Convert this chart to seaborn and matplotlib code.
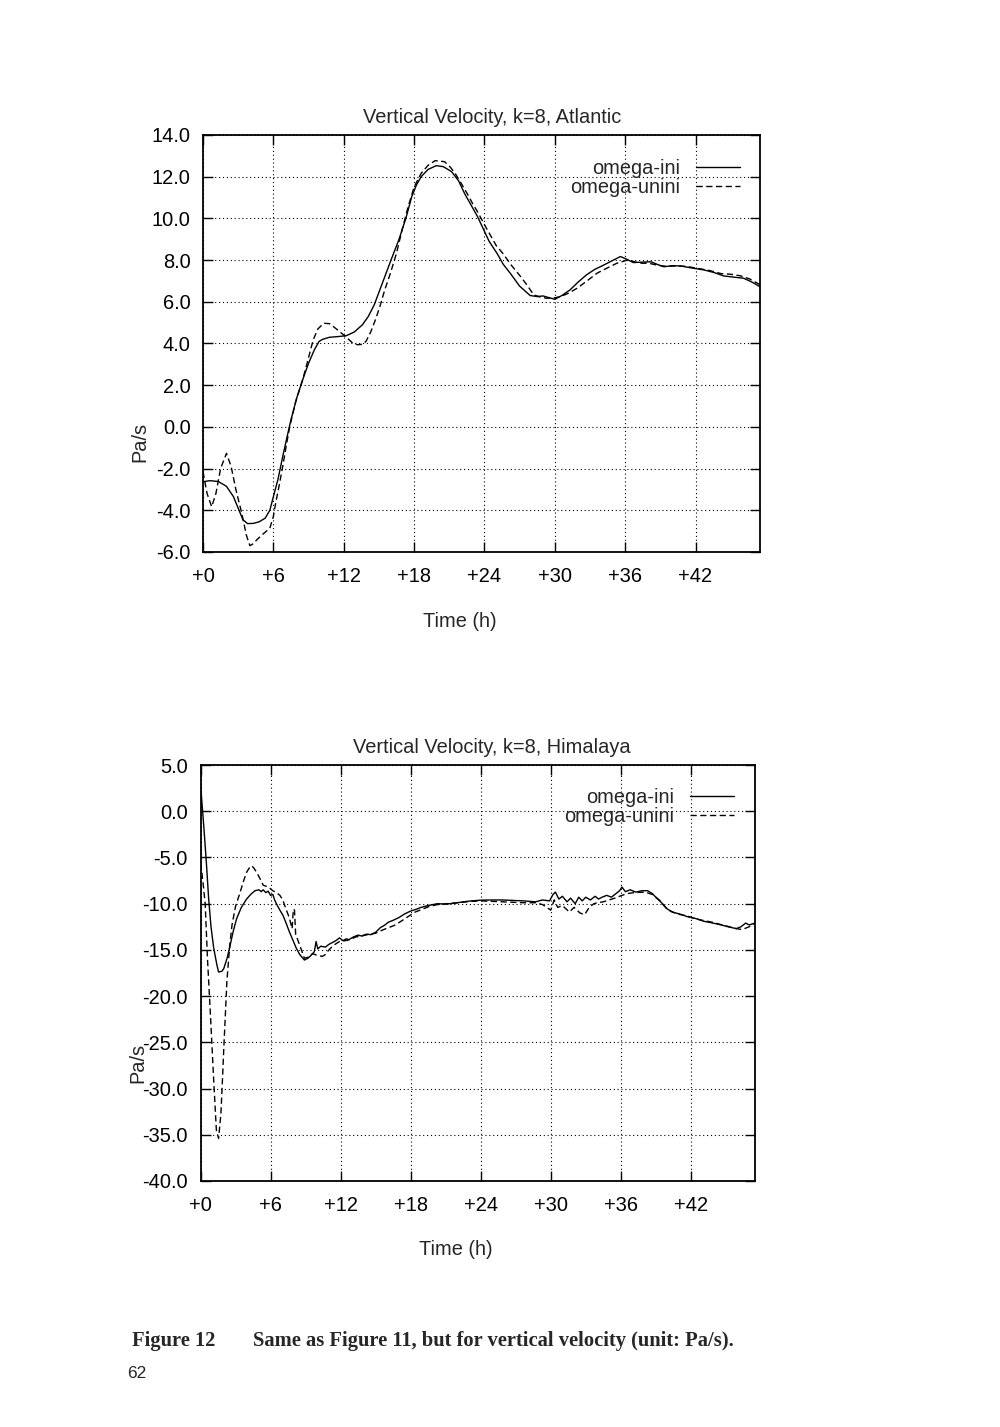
import numpy as np
import pandas as pd
import matplotlib
matplotlib.use("Agg")
import matplotlib.pyplot as plt
import seaborn as sns

# ---- data (hours, Pa/s) ----
atl_ini_t = [0.0, 0.6, 1.3, 2.0, 2.6, 3.0, 3.4, 3.8, 4.3, 4.8, 5.3, 5.7, 6.0, 6.4, 6.8,
             7.2, 7.5, 8.0, 8.5, 9.0, 9.5, 9.9, 10.2, 10.8, 11.3, 12.2, 12.9, 13.6, 14.1,
             14.6, 15.0, 15.5, 16.1, 16.7, 17.3, 17.8, 18.2, 18.6, 19.2, 19.9, 20.5, 21.2,
             21.8, 22.3, 22.8, 23.4, 23.9, 24.4, 25.1, 25.6, 26.2, 27.0, 27.9, 28.5, 29.0,
             29.5, 30.0, 30.6, 31.3, 32.0, 32.7, 33.4, 34.2, 35.0, 35.6, 36.1, 36.7, 37.4,
             38.2, 38.8, 39.3, 40.0, 40.7, 41.7, 42.7, 43.6, 44.4, 45.3, 46.1, 46.8, 47.5]
atl_ini_v = [-2.63, -2.58, -2.62, -2.85, -3.35, -3.9, -4.45, -4.64, -4.63, -4.55, -4.38,
             -4.0, -3.35, -2.5, -1.42, -0.4, 0.34, 1.4, 2.26, 3.05, 3.7, 4.1, 4.2, 4.3,
             4.32, 4.37, 4.55, 4.9, 5.3, 5.85, 6.45, 7.2, 8.1, 8.97, 10.0, 11.04, 11.6,
             12.0, 12.35, 12.53, 12.48, 12.24, 11.8, 11.2, 10.7, 10.1, 9.5, 8.9, 8.3, 7.8,
             7.37, 6.75, 6.3, 6.25, 6.28, 6.2, 6.12, 6.3, 6.57, 6.95, 7.29, 7.55, 7.77, 8.0,
             8.17, 8.05, 7.88, 7.9, 7.92, 7.78, 7.68, 7.73, 7.72, 7.62, 7.53, 7.4, 7.24,
             7.18, 7.13, 6.95, 6.72]

atl_unini_t = [0.0, 0.35, 0.74, 1.1, 1.5, 2.0, 2.4, 2.8, 3.3, 3.7, 4.0, 4.3, 4.6, 5.1, 5.7,
               6.0, 6.2, 6.5, 6.8, 7.1, 7.4, 7.9, 8.5, 8.9, 9.4, 9.8, 10.3, 10.8, 11.3,
               11.8, 12.3, 12.8, 13.2, 13.6, 13.9, 14.3, 14.7, 15.1, 15.5, 16.0, 16.5,
               17.0, 17.5, 18.0, 18.6, 19.2, 19.8, 20.6, 21.1, 21.5, 22.0, 22.6, 23.0,
               23.4, 24.0, 24.5, 25.0, 25.6, 26.3, 27.1, 27.7, 28.2, 28.8, 29.3, 29.9,
               30.5, 31.2, 31.9, 32.7, 33.6, 34.4, 35.3, 36.2, 36.8, 37.3, 38.0, 38.8,
               39.5, 40.3, 41.2, 42.2, 43.2, 44.2, 45.0, 45.8, 46.6, 47.5]
atl_unini_v = [-2.15, -3.2, -3.83, -3.2, -2.0, -1.27, -1.9, -3.0, -4.13, -5.2, -5.7, -5.6,
               -5.41, -5.15, -4.86, -4.3, -3.65, -2.8, -1.9, -0.9, 0.02, 1.2, 2.26, 3.1,
               4.18, 4.7, 4.97, 4.95, 4.73, 4.5, 4.26, 4.0, 3.94, 3.96, 4.1, 4.55, 5.13,
               5.8, 6.57, 7.4, 8.33, 9.5, 10.57, 11.5, 12.16, 12.55, 12.77, 12.72, 12.45,
               12.16, 11.7, 11.12, 10.7, 10.33, 9.7, 9.2, 8.7, 8.3, 7.75, 7.2, 6.75, 6.33,
               6.22, 6.17, 6.18, 6.25, 6.42, 6.65, 6.98, 7.37, 7.6, 7.85, 8.0, 7.92, 7.85,
               7.85, 7.75, 7.7, 7.72, 7.7, 7.6, 7.5, 7.35, 7.32, 7.25, 7.1, 6.82]

him_ini_t = [0.0, 0.15, 0.28, 0.5, 0.7, 0.9, 1.13, 1.4, 1.55, 1.85, 2.0, 2.3, 2.54, 2.8,
             3.1, 3.5, 3.95, 4.3, 4.66, 5.0, 5.2, 5.37, 5.6, 5.8, 6.0, 6.2, 6.35, 6.5, 6.8,
             7.06, 7.3, 7.6, 7.9, 8.2, 8.5, 8.9, 9.2, 9.46, 9.75, 9.9, 10.05, 10.3, 10.7,
             11.0, 11.3, 11.6, 11.9, 12.2, 12.5, 12.7, 13.1, 13.5, 13.8, 14.2, 14.6, 15.0,
             15.4, 15.8, 16.1, 16.5, 17.0, 17.5, 18.0, 18.5, 18.9, 19.5, 20.3, 21.0, 21.75,
             22.5, 23.2, 24.0, 24.8, 25.9, 26.8, 27.7, 28.7, 29.3, 29.9, 30.2, 30.4, 30.7,
             31.0, 31.4, 31.7, 32.1, 32.4, 32.7, 33.0, 33.4, 33.8, 34.1, 34.4, 34.8, 35.2,
             35.6, 35.9, 36.1, 36.4, 36.8, 37.3, 37.8, 38.3, 38.7, 39.0, 39.5, 39.9, 40.4,
             41.0, 41.7, 42.4, 43.1, 43.9, 44.6, 45.2, 45.9, 46.3, 46.7, 47.0, 47.5]
him_ini_v = [3.0, 0.5, -1.6, -5.5, -9.5, -12.5, -14.8, -16.6, -17.4, -17.3, -17.0, -15.8,
             -14.5, -13.0, -11.6, -10.4, -9.5, -9.0, -8.6, -8.5, -8.7, -8.5, -8.8, -8.65,
             -9.1, -9.0, -9.6, -10.0, -10.7, -11.25, -12.0, -13.0, -13.9, -14.8, -15.5,
             -16.1, -15.9, -15.6, -15.2, -14.1, -14.9, -14.6, -14.7, -14.4, -14.2, -14.0,
             -13.7, -14.0, -13.8, -13.9, -13.6, -13.4, -13.5, -13.3, -13.35, -13.1, -12.6,
             -12.3, -12.0, -11.8, -11.5, -11.1, -10.8, -10.6, -10.4, -10.2, -10.0, -10.05,
             -9.95, -9.8, -9.7, -9.62, -9.6, -9.6, -9.65, -9.7, -9.8, -9.6, -9.7, -9.0,
             -8.75, -9.5, -9.2, -9.8, -9.4, -10.0, -9.3, -9.7, -9.3, -9.6, -9.2, -9.5, -9.3,
             -9.1, -9.3, -8.9, -8.6, -8.2, -8.7, -8.5, -8.75, -8.6, -8.6, -8.9, -9.3, -9.9,
             -10.5, -10.9, -11.1, -11.4, -11.6, -11.9, -12.1, -12.3, -12.5, -12.7, -12.5,
             -12.1, -12.3, -12.1]

him_unini_t = [0.0, 0.2, 0.4, 0.6, 0.85, 1.13, 1.36, 1.55, 1.75, 1.9, 2.0, 2.13, 2.26, 2.5,
               2.7, 3.0, 3.4, 3.7, 3.95, 4.2, 4.4, 4.6, 4.8, 5.1, 5.37, 5.8, 6.2, 6.5, 6.8,
               7.05, 7.3, 7.6, 7.85, 7.95, 8.05, 8.15, 8.5, 8.9, 9.2, 9.6, 10.0, 10.45,
               10.7, 11.0, 11.4, 11.9, 12.4, 12.8, 13.3, 13.8, 14.3, 15.0, 15.5, 16.1, 16.7,
               17.3, 17.9, 18.4, 19.0, 19.6, 20.3, 21.1, 22.0, 23.2, 24.0, 25.0, 25.9, 26.8,
               27.7, 28.7, 29.3, 30.0, 30.3, 30.6, 31.0, 31.6, 32.0, 32.5, 32.9, 33.3, 33.7,
               34.0, 34.5, 35.0, 35.5, 36.1, 36.6, 37.2, 38.1, 38.7, 39.3, 39.7, 40.1, 40.8,
               41.6, 42.3, 43.0, 43.8, 44.7, 45.3, 45.9, 46.4, 47.0, 47.5]
him_unini_v = [-5.6, -7.5, -10.0, -16.0, -22.0, -29.1, -34.5, -35.4, -32.7, -28.5, -25.5,
               -22.0, -18.4, -14.6, -12.3, -10.3, -8.75, -7.5, -6.6, -6.1, -5.9, -6.2, -6.6,
               -7.3, -8.0, -8.2, -8.6, -8.8, -9.1, -9.6, -10.5, -11.5, -12.7, -10.6, -10.7,
               -13.3, -14.5, -15.9, -15.8, -15.4, -15.6, -15.7, -15.5, -15.0, -14.5, -14.1,
               -14.0, -13.9, -13.6, -13.5, -13.35, -13.2, -12.9, -12.6, -12.3, -11.8, -11.3,
               -10.9, -10.6, -10.3, -10.1, -10.0, -9.9, -9.75, -9.7, -9.75, -9.8, -9.85,
               -9.9, -9.9, -10.1, -10.7, -9.6, -10.4, -10.2, -10.9, -10.4, -11.0, -11.2,
               -10.4, -10.0, -9.9, -9.8, -9.6, -9.4, -9.1, -8.9, -8.8, -8.75, -9.0, -9.6,
               -10.2, -10.7, -11.1, -11.3, -11.6, -11.8, -12.0, -12.3, -12.5, -12.7, -12.8,
               -12.5, -12.1]

x_ticks = [0, 6, 12, 18, 24, 30, 36, 42]
x_tick_labels = ["+0", "+6", "+12", "+18", "+24", "+30", "+36", "+42"]
atl_y_ticks = [-6, -4, -2, 0, 2, 4, 6, 8, 10, 12, 14]
him_y_ticks = [-40, -35, -30, -25, -20, -15, -10, -5, 0, 5]

sns.set_style("ticks")
plt.rcParams["font.family"] = ["Liberation Sans", "DejaVu Sans"]
FS = 14.4
DASH = (0, (4.5, 2.5))

fig = plt.figure(figsize=(10, 14.27), dpi=100)


def panel(rect, title, t1, v1, t2, v2, yticks, ylim, title_x, ylab_y, leg_anchor):
    ax = fig.add_axes(rect)
    sns.lineplot(x=t1, y=v1, ax=ax, color="black", lw=1.0, label="omega-ini")
    sns.lineplot(x=t2, y=v2, ax=ax, color="black", lw=1.0, linestyle=DASH,
                 label="omega-unini")
    ax.set_xlim(0, 47.5)
    ax.set_ylim(*ylim)
    ax.set_xticks(x_ticks)
    ax.set_xticklabels(x_tick_labels)
    ax.set_yticks(yticks)
    ax.set_yticklabels([f"{y:.1f}" for y in yticks])
    ax.tick_params(direction="in", length=7, width=1.0, top=True, right=True,
                   labelsize=FS, color="black", labelcolor="black")
    ax.tick_params(axis="y", pad=9)
    ax.tick_params(axis="x", pad=11)
    ax.grid(True, color="black", linestyle=(0, (1, 2.5)), lw=0.8)
    for s in ax.spines.values():
        s.set_visible(True)
        s.set_linewidth(1.3)
        s.set_color("black")
    ax.set_xlabel("Time (h)", fontsize=FS)
    ax.xaxis.set_label_coords(0.461, -0.143)
    ax.set_ylabel("Pa/s", fontsize=FS)
    ax.yaxis.set_label_coords(-0.096, ylab_y)
    ax.text(title_x, 1.043, title, transform=ax.transAxes, ha="center", va="center",
            fontsize=FS)
    leg = ax.legend(loc="upper right", bbox_to_anchor=leg_anchor, frameon=False,
                    markerfirst=False, fontsize=FS, handlelength=2.2,
                    handletextpad=0.8, labelspacing=0.0, borderpad=0,
                    borderaxespad=0)
    for line in leg.get_lines():
        line.set_linewidth(1.0)
    return ax


panel([0.203, 0.6132, 0.557, 0.2922], "Vertical Velocity, k=8, Atlantic",
      atl_ini_t, atl_ini_v, atl_unini_t, atl_unini_v, atl_y_ticks, (-6, 14),
      0.519, 0.264, (0.964, 0.943))
panel([0.2005, 0.1724, 0.5545, 0.2915], "Vertical Velocity, k=8, Himalaya",
      him_ini_t, him_ini_v, him_unini_t, him_unini_v, him_y_ticks, (-40, 5),
      0.526, 0.284, (0.962, 0.945))

fig.text(0.132, 1 - 1341 / 1427, "Figure 12", fontsize=14.8, fontweight="bold",
         family="Liberation Serif", va="center", ha="left")
fig.text(0.253, 1 - 1341 / 1427,
         "Same as Figure 11, but for vertical velocity (unit: Pa/s).",
         fontsize=14.8, fontweight="bold", family="Liberation Serif", va="center",
         ha="left")
fig.text(0.127, 1 - 1373 / 1427, "62", fontsize=12.5, va="center", ha="left")

fig.savefig("out.png", dpi=100, facecolor="white")
